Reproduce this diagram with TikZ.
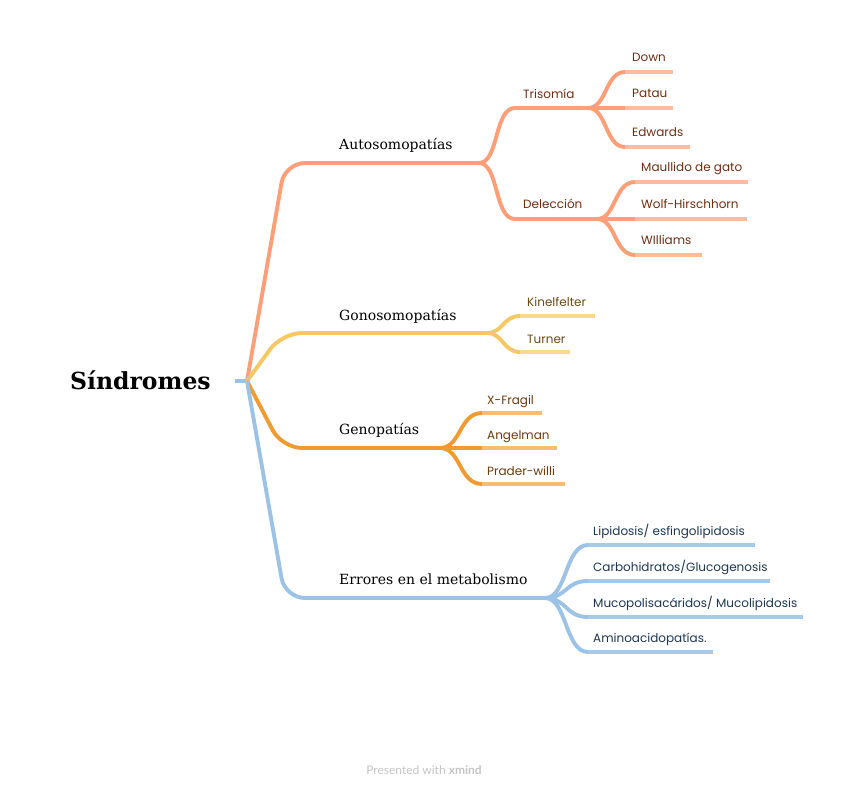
\documentclass[tikz,border=0pt]{standalone}
\usepackage{fontspec}
\setmainfont{DejaVu Serif}
\newfontfamily\labfont{Poppins}
\newfontfamily\footfont{Lato}
\definecolor{am}{HTML}{FF9E77}
\definecolor{al}{HTML}{FFBC9D}
\definecolor{at}{HTML}{6E2C12}
\definecolor{gm}{HTML}{F5C865}
\definecolor{gl}{HTML}{F8D990}
\definecolor{gt}{HTML}{6B4A17}
\definecolor{om}{HTML}{F09A32}
\definecolor{ol}{HTML}{F5BC72}
\definecolor{ot}{HTML}{6B3A0C}
\definecolor{bm}{HTML}{9CC2E5}
\definecolor{bl}{HTML}{A8CAE9}
\definecolor{bt}{HTML}{1C3552}
\definecolor{ft}{HTML}{C4C4C4}
\begin{document}
\begin{tikzpicture}[x=1pt,y=-1pt,
  br/.style={line width=3.9pt, line join=round},
  rootlab/.style={font=\fontsize{23.5}{27}\selectfont\bfseries, anchor=base west, inner sep=0pt},
  l1lab/.style={font=\fontsize{14}{17}\selectfont, anchor=base west, inner sep=0pt},
  l2lab/.style={font=\labfont\fontsize{12}{14}\selectfont, anchor=base west, inner sep=0pt}]
\useasboundingbox (0,0) rectangle (848,791);

% root
\node[rootlab] (root) at (70,389) {Síndromes};
\coordinate (rs) at (235,381);
\coordinate (rj) at (247,381);
\draw[br, bm] (rs) -- (rj);

% ---------- level 1 ----------
\coordinate (ac) at (285,163);
\coordinate (aj) at (479,163);
\coordinate (gc) at (282,333);
\coordinate (gj) at (487,333);
\coordinate (oc) at (282,448);
\coordinate (oj) at (440,448);
\coordinate (ec) at (285,598);
\coordinate (ej) at (545,598);
\draw[br, am, rounded corners=20pt] (rj) -- (ac) -- (aj);
\draw[br, gm, rounded corners=20pt] (rj) -- (gc) -- (gj);
\draw[br, om, rounded corners=20pt] (rj) -- (oc) -- (oj);
\draw[br, bm, rounded corners=20pt] (rj) -- (ec) -- (ej);
\node[l1lab] (auto) at (339,150) {Autosomopatías};
\node[l1lab] (gono) at (339,321) {Gonosomopatías};
\node[l1lab] (geno) at (339,434) {Genopatías};
\node[l1lab] (erro) at (339,584) {Errores en el metabolismo};

% ---------- Autosomopatías ----------
\coordinate (tris) at (515,108);
\coordinate (trij) at (588,108);
\coordinate (dels) at (515,219);
\coordinate (delj) at (597,219);
\draw[br, am] (aj) .. controls (499,163) and (494,108) .. (tris) -- (trij);
\draw[br, am] (aj) .. controls (499,163) and (494,219) .. (dels) -- (delj);
\node[l2lab, text=at] (tri) at (523,99) {Trisomía};
\node[l2lab, text=at] (del) at (523,209) {Delección};

\foreach \n/\y/\e/\t in {down/72/673/Down, patau/108/673/Patau, edw/147/690/Edwards}{
  \coordinate (\n s) at (625,\y);
  \coordinate (\n e) at (\e,\y);
  \draw[br, am] (trij) .. controls (607,108) and (605,\y) .. (\n s);
  \draw[br, al] (\n s) -- (\n e);
  \node[l2lab, text=at] (\n) at (632,\y-10) {\t};
}
\foreach \n/\y/\e/\t in {maul/182/748/Maullido de gato, wolf/219/747/Wolf-Hirschhorn, will/255/702/WIlliams}{
  \coordinate (\n s) at (635,\y);
  \coordinate (\n e) at (\e,\y);
  \draw[br, am] (delj) .. controls (616,219) and (614,\y) .. (\n s);
  \draw[br, al] (\n s) -- (\n e);
  \node[l2lab, text=at] (\n) at (641,\y-10) {\t};
}

% ---------- Gonosomopatías ----------
\foreach \n/\y/\e/\t in {kin/316/595/Kinelfelter, tur/352/570/Turner}{
  \coordinate (\n s) at (520,\y);
  \coordinate (\n e) at (\e,\y);
  \draw[br, gm] (gj) .. controls (503,333) and (503,\y) .. (\n s);
  \draw[br, gl] (\n s) -- (\n e);
  \node[l2lab, text=gt] (\n) at (527,\y-9) {\t};
}

% ---------- Genopatías ----------
\foreach \n/\y/\e/\t in {xfr/413/542/X-Fragil, ang/448/557/Angelman, pra/484/565/Prader-willi}{
  \coordinate (\n s) at (482,\y);
  \coordinate (\n e) at (\e,\y);
  \draw[br, om] (oj) .. controls (461,448) and (459,\y) .. (\n s);
  \draw[br, ol] (\n s) -- (\n e);
  \node[l2lab, text=ot] (\n) at (487,\y-9) {\t};
}

% ---------- Errores en el metabolismo ----------
\foreach \n/\y/\e/\t in {lip/545/755/{Lipidosis/ esfingolipidosis}, car/581/770/{Carbohidratos/Glucogenosis}, muc/617/803/{Mucopolisacáridos/ Mucolipidosis}, ami/652/713/{Aminoacidopatías.}}{
  \coordinate (\n s) at (588,\y);
  \coordinate (\n e) at (\e,\y);
  \draw[br, bm] (ej) .. controls (567,598) and (565,\y) .. (\n s);
  \draw[br, bl] (\n s) -- (\n e);
  \node[l2lab, text=bt] (\n) at (593,\y-10) {\t};
}

% footer
\node[font=\footfont\fontsize{12}{14}\selectfont, text=ft, inner sep=0pt] (foot) at (424,770) {Presented with \textbf{xmind}};
\end{tikzpicture}
\end{document}
